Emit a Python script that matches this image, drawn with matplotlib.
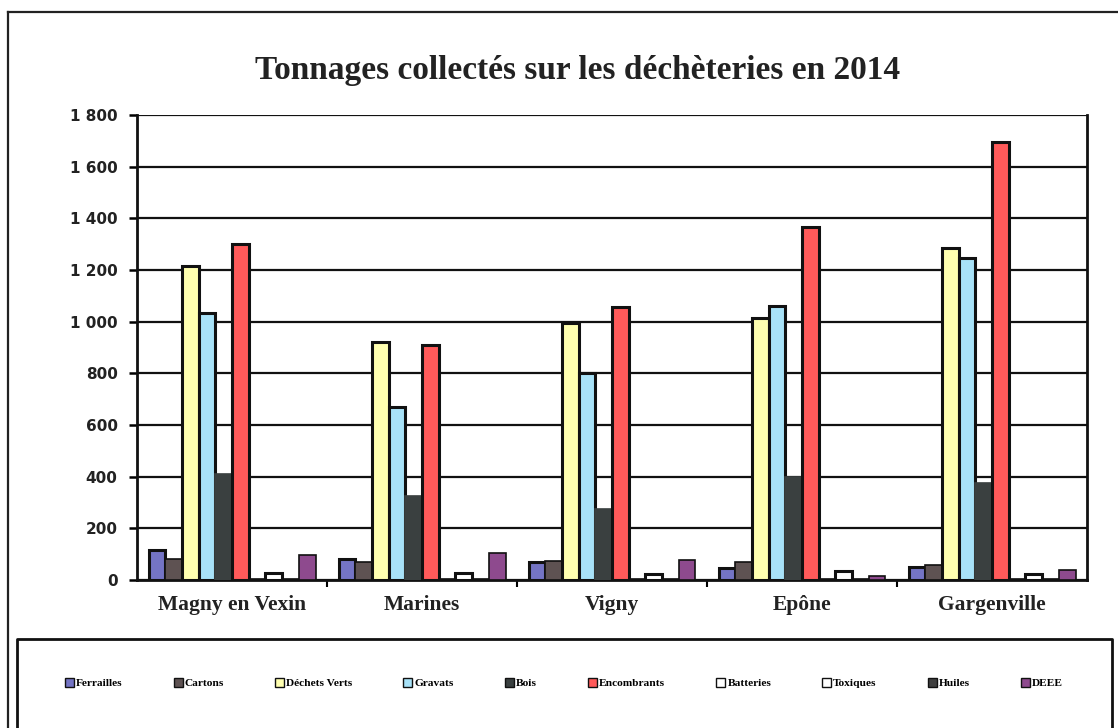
import matplotlib
matplotlib.use("Agg")
import matplotlib.pyplot as plt
from matplotlib.lines import Line2D
from matplotlib.patches import Patch
import numpy as np

categories = ["Magny en Vexin", "Marines", "Vigny", "Epône", "Gargenville"]
series = ["Ferrailles", "Cartons", "Déchets Verts", "Gravats", "Bois",
          "Encombrants", "Batteries", "Toxiques", "Huiles", "DEEE"]

ferrailles = [115, 80, 68, 48, 52]
cartons = [80, 70, 72, 70, 60]
dechets_verts = [1215, 920, 995, 1015, 1285]
gravats = [1035, 670, 800, 1060, 1245]
bois = [410, 325, 275, 400, 375]
encombrants = [1300, 910, 1055, 1365, 1695]
batteries = [3, 3, 3, 3, 3]
toxiques = [28, 28, 25, 35, 25]
huiles = [5, 5, 5, 5, 5]
deee = [95, 105, 78, 15, 40]

values = [ferrailles, cartons, dechets_verts, gravats, bois,
          encombrants, batteries, toxiques, huiles, deee]
colors = ["#7474C4", "#5E5252", "#FFFFB0", "#A8E2F8", "#3A4040",
          "#FF5A5A", "#FFFFFF", "#FFFFFF", "#404040", "#8E4A8E"]
yticks = [0, 200, 400, 600, 800, 1000, 1200, 1400, 1600, 1800]
ytick_labels = ["0", "200", "400", "600", "800", "1 000", "1 200", "1 400", "1 600", "1 800"]

W, H = 1118, 728
fig = plt.figure(figsize=(W / 100, H / 100), dpi=100)
fig.patch.set_facecolor("white")

ax = fig.add_axes([137 / W, 1 - 580 / H, (1087 - 137) / W, (580 - 115) / H])

n = len(series)
w = (167 / 190) / n
x = np.arange(len(categories))
for j, (vals, col) in enumerate(zip(values, colors)):
    lw = 2.2 if j in (0, 2, 3, 5, 7) else 1.2
    ax.bar(x + (j - (n - 1) / 2) * w, vals, width=w, color=col,
           edgecolor="#111111" if j != 4 else "#3A4040", linewidth=lw,
           zorder=3, label=series[j])

ax.set_xlim(-0.5, len(categories) - 0.5)
ax.set_ylim(0, 1800)
ax.set_yticks(yticks)
ax.set_yticklabels(ytick_labels, fontfamily="DejaVu Sans", fontweight="bold",
                   fontsize=11, color="#222222")
ax.yaxis.grid(True, color="#111111", linewidth=1.6, zorder=1)
ax.tick_params(axis="y", length=6, width=1.8, pad=8, direction="out")

ax.set_xticks(x)
ax.set_xticklabels(categories, fontfamily="Liberation Serif", fontweight="bold",
                   fontsize=15.5, color="#222222")
ax.tick_params(axis="x", length=0, pad=11)
ax.set_xticks(np.arange(0.5, len(categories) - 0.5, 1), minor=True)
ax.tick_params(axis="x", which="minor", length=5, width=1.5, direction="out")

for s in ["left", "bottom", "right"]:
    ax.spines[s].set_linewidth(2.0)
    ax.spines[s].set_color("#111111")
ax.spines["top"].set_visible(False)
ax.set_axisbelow(True)

fig.text(578 / W, 1 - 70 / H, "Tonnages collectés sur les déchèteries en 2014",
         ha="center", va="center", fontfamily="Liberation Serif",
         fontweight="bold", fontsize=24, color="#222222")

# outer chart frame
fig.add_artist(Line2D([8 / W, 8 / W], [0, 1 - 12 / H], color="#222222", linewidth=1.6,
                      transform=fig.transFigure))
fig.add_artist(Line2D([8 / W, 1], [1 - 12 / H, 1 - 12 / H], color="#222222", linewidth=1.6,
                      transform=fig.transFigure))
# legend box
fig.add_artist(Line2D([17 / W, 17 / W, 1112 / W, 1112 / W],
                      [0, 1 - 639 / H, 1 - 639 / H, 0],
                      color="#111111", linewidth=2.0, transform=fig.transFigure))

handles = [Patch(facecolor=c, edgecolor="#111111", linewidth=1.0) for c in colors]
leg = fig.legend(handles, series, loc="center", bbox_to_anchor=(564 / W, 1 - 683 / H),
                 ncol=10, frameon=False, handlelength=0.8, handleheight=0.8,
                 handletextpad=0.2, columnspacing=4.45,
                 prop={"family": "Liberation Serif", "weight": "bold", "size": 8.2})

fig.savefig("out.png", dpi=100, facecolor="white")
